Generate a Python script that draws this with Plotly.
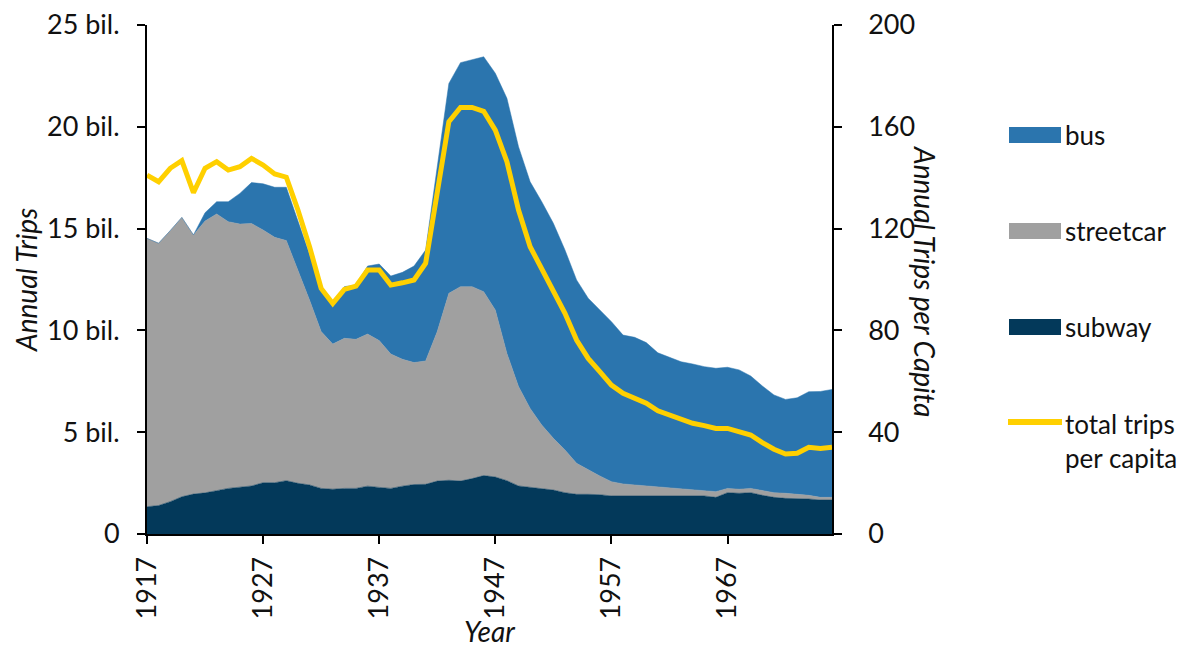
import plotly.graph_objects as go

years = list(range(1917, 1977))

subway = [1.34, 1.40, 1.59, 1.83, 1.96, 2.02, 2.13, 2.24, 2.30, 2.36,
          2.52, 2.52, 2.62, 2.49, 2.41, 2.24, 2.20, 2.24, 2.24, 2.35,
          2.29, 2.24, 2.35, 2.43, 2.44, 2.60, 2.64, 2.60, 2.72, 2.87,
          2.80, 2.62, 2.36, 2.29, 2.24, 2.16, 2.03, 1.95, 1.95, 1.93,
          1.87, 1.87, 1.87, 1.87, 1.90, 1.87, 1.90, 1.87, 1.87, 1.80,
          2.03, 2.00, 2.03, 1.90, 1.80, 1.75, 1.75, 1.72, 1.67, 1.67]

streetcar = [13.18, 12.88, 13.31, 13.72, 12.73, 13.35, 13.59, 13.10, 12.92, 12.89,
             12.41, 12.05, 11.79, 10.48, 9.08, 7.70, 7.13, 7.37, 7.32, 7.47,
             7.21, 6.60, 6.23, 5.99, 6.06, 7.34, 9.18, 9.55, 9.43, 9.03,
             8.20, 6.25, 4.88, 3.88, 3.11, 2.54, 2.10, 1.52, 1.19, 0.92,
             0.70, 0.59, 0.54, 0.49, 0.43, 0.41, 0.30, 0.29, 0.26, 0.28,
             0.21, 0.20, 0.21, 0.23, 0.23, 0.25, 0.20, 0.18, 0.13, 0.13]

bus = [0.0, 0.0, 0.0, 0.0, 0.0, 0.41, 0.60, 0.98, 1.51, 2.01,
       2.27, 2.46, 2.62, 2.43, 2.31, 2.14, 2.02, 2.54, 2.67, 3.34,
       3.76, 3.83, 4.27, 4.74, 5.45, 8.10, 10.31, 11.00, 11.16, 11.54,
       11.63, 12.53, 11.78, 11.13, 10.97, 10.56, 9.82, 9.01, 8.44, 8.15,
       7.86, 7.31, 7.25, 7.04, 6.57, 6.40, 6.26, 6.19, 6.09, 6.06,
       5.95, 5.86, 5.52, 5.14, 4.80, 4.61, 4.74, 5.09, 5.20, 5.30]

per_capita = [141.0, 138.4, 143.7, 146.7, 134.1, 143.7, 146.3, 143.0, 144.3, 147.6,
              145.0, 141.5, 140.2, 127.3, 112.9, 96.5, 90.6, 96.1, 97.4, 103.7,
              103.7, 97.8, 98.7, 99.8, 106.4, 133.9, 162.0, 167.6, 167.6, 166.1,
              158.7, 146.3, 127.3, 112.9, 104.4, 95.9, 86.7, 76.2, 69.0, 63.8,
              58.5, 55.3, 53.3, 51.4, 48.4, 46.8, 44.8, 43.5, 42.6, 41.5,
              41.5, 40.2, 38.9, 35.9, 33.3, 31.4, 31.7, 34.1, 33.6, 34.1]

left_tickvals = [0, 5, 10, 15, 20, 25]
left_ticktext = ["0", "5 bil.", "10 bil.", "15 bil.", "20 bil.", "25 bil."]
right_tickvals = [0, 40, 80, 120, 160, 200]
right_ticktext = ["0", "40", "80", "120", "160", "200"]
x_tickvals = [1917, 1927, 1937, 1947, 1957, 1967]

C_BUS = "#2B75AE"
C_STREET = "#A0A0A0"
C_SUB = "#03395A"
C_LINE = "#FFD000"
FONT = "Lato"
FS = 27
FL = 26
FT = 28
TXT = "#111"
PAD = "\u00a0\u00a0\u00a0"

# the page body adds an 8px offset; figure is sized so page pixels match the reference
OFF = 8
W, H = 1187 - OFF, 650 - OFF
ML, MR, MT, MB = 147 - OFF, 355, 25 - OFF, 116
PW, PH = W - ML - MR, H - MT - MB


def px(xp):
    return (xp - OFF - ML) / PW


def py(yp):
    return (H - MB - (yp - OFF)) / PH


fig = go.Figure()
for name, vals, col in [("subway", subway, C_SUB), ("streetcar", streetcar, C_STREET), ("bus", bus, C_BUS)]:
    fig.add_trace(go.Scatter(
        x=years, y=vals, name=name, stackgroup="one", mode="lines",
        line=dict(width=0.5, color=col), fillcolor=col, showlegend=False,
        hoverinfo="x+y+name"))

fig.add_trace(go.Scatter(
    x=years, y=per_capita, name="total trips per capita", yaxis="y2",
    mode="lines", line=dict(color=C_LINE, width=5), showlegend=False))

axis_common = dict(showline=True, linecolor="black", linewidth=2, ticks="outside",
                   tickcolor="black", tickwidth=2, ticklen=8, showgrid=False, zeroline=False,
                   automargin=False, ticklabeloverflow="allow",
                   tickfont=dict(family=FONT, size=FS, color=TXT))

fig.update_layout(
    width=W, height=H,
    margin=dict(l=ML, r=MR, t=MT, b=MB, pad=0, autoexpand=False),
    paper_bgcolor="white", plot_bgcolor="white",
    font=dict(family=FONT, size=FS, color=TXT),
    xaxis=dict(range=[1917, 1976], tickvals=x_tickvals, tickangle=-90, ticklabelstandoff=2,
               **axis_common),
    yaxis=dict(range=[0, 25], tickvals=left_tickvals, ticktext=left_ticktext,
               ticklabelstandoff=12, **axis_common),
    yaxis2=dict(range=[0, 200], tickvals=right_tickvals,
                ticktext=[PAD + t for t in right_ticktext],
                overlaying="y", side="right", **axis_common),
)

title_font = dict(family=FONT, size=FT, style="italic", color=TXT)
# axis titles
fig.add_annotation(text="Annual Trips", xref="paper", yref="paper",
                   x=px(26), y=py(280), xanchor="center", yanchor="middle",
                   textangle=-90, showarrow=False, font=title_font)
fig.add_annotation(text="Annual Trips per Capita", xref="paper", yref="paper",
                   x=px(925), y=py(281), xanchor="center", yanchor="middle",
                   textangle=90, showarrow=False, font=title_font)
fig.add_annotation(text="Year", xref="paper", yref="paper",
                   x=px(489), y=py(631), xanchor="center", yanchor="middle",
                   showarrow=False, font=title_font)

# manual legend
legend_items = [("bus", C_BUS, 135), ("streetcar", C_STREET, 231), ("subway", C_SUB, 327)]
for label, col, yc in legend_items:
    fig.add_shape(type="rect", xref="paper", yref="paper",
                  x0=px(1009), x1=px(1061), y0=py(yc - 8), y1=py(yc + 8),
                  fillcolor=col, line=dict(width=0))
    fig.add_annotation(text=label, xref="paper", yref="paper", x=px(1063), y=py(yc),
                       xanchor="left", yanchor="middle", showarrow=False,
                       font=dict(family=FONT, size=FL, color=TXT))
fig.add_shape(type="line", xref="paper", yref="paper", x0=px(1008), x1=px(1062),
              y0=py(422), y1=py(422), line=dict(color=C_LINE, width=6))
fig.add_annotation(text="total trips<br>per capita", xref="paper", yref="paper",
                   x=px(1063), y=py(441), xanchor="left", yanchor="middle", align="left",
                   showarrow=False, font=dict(family=FONT, size=FL, color=TXT))

fig.write_html("out.html")
